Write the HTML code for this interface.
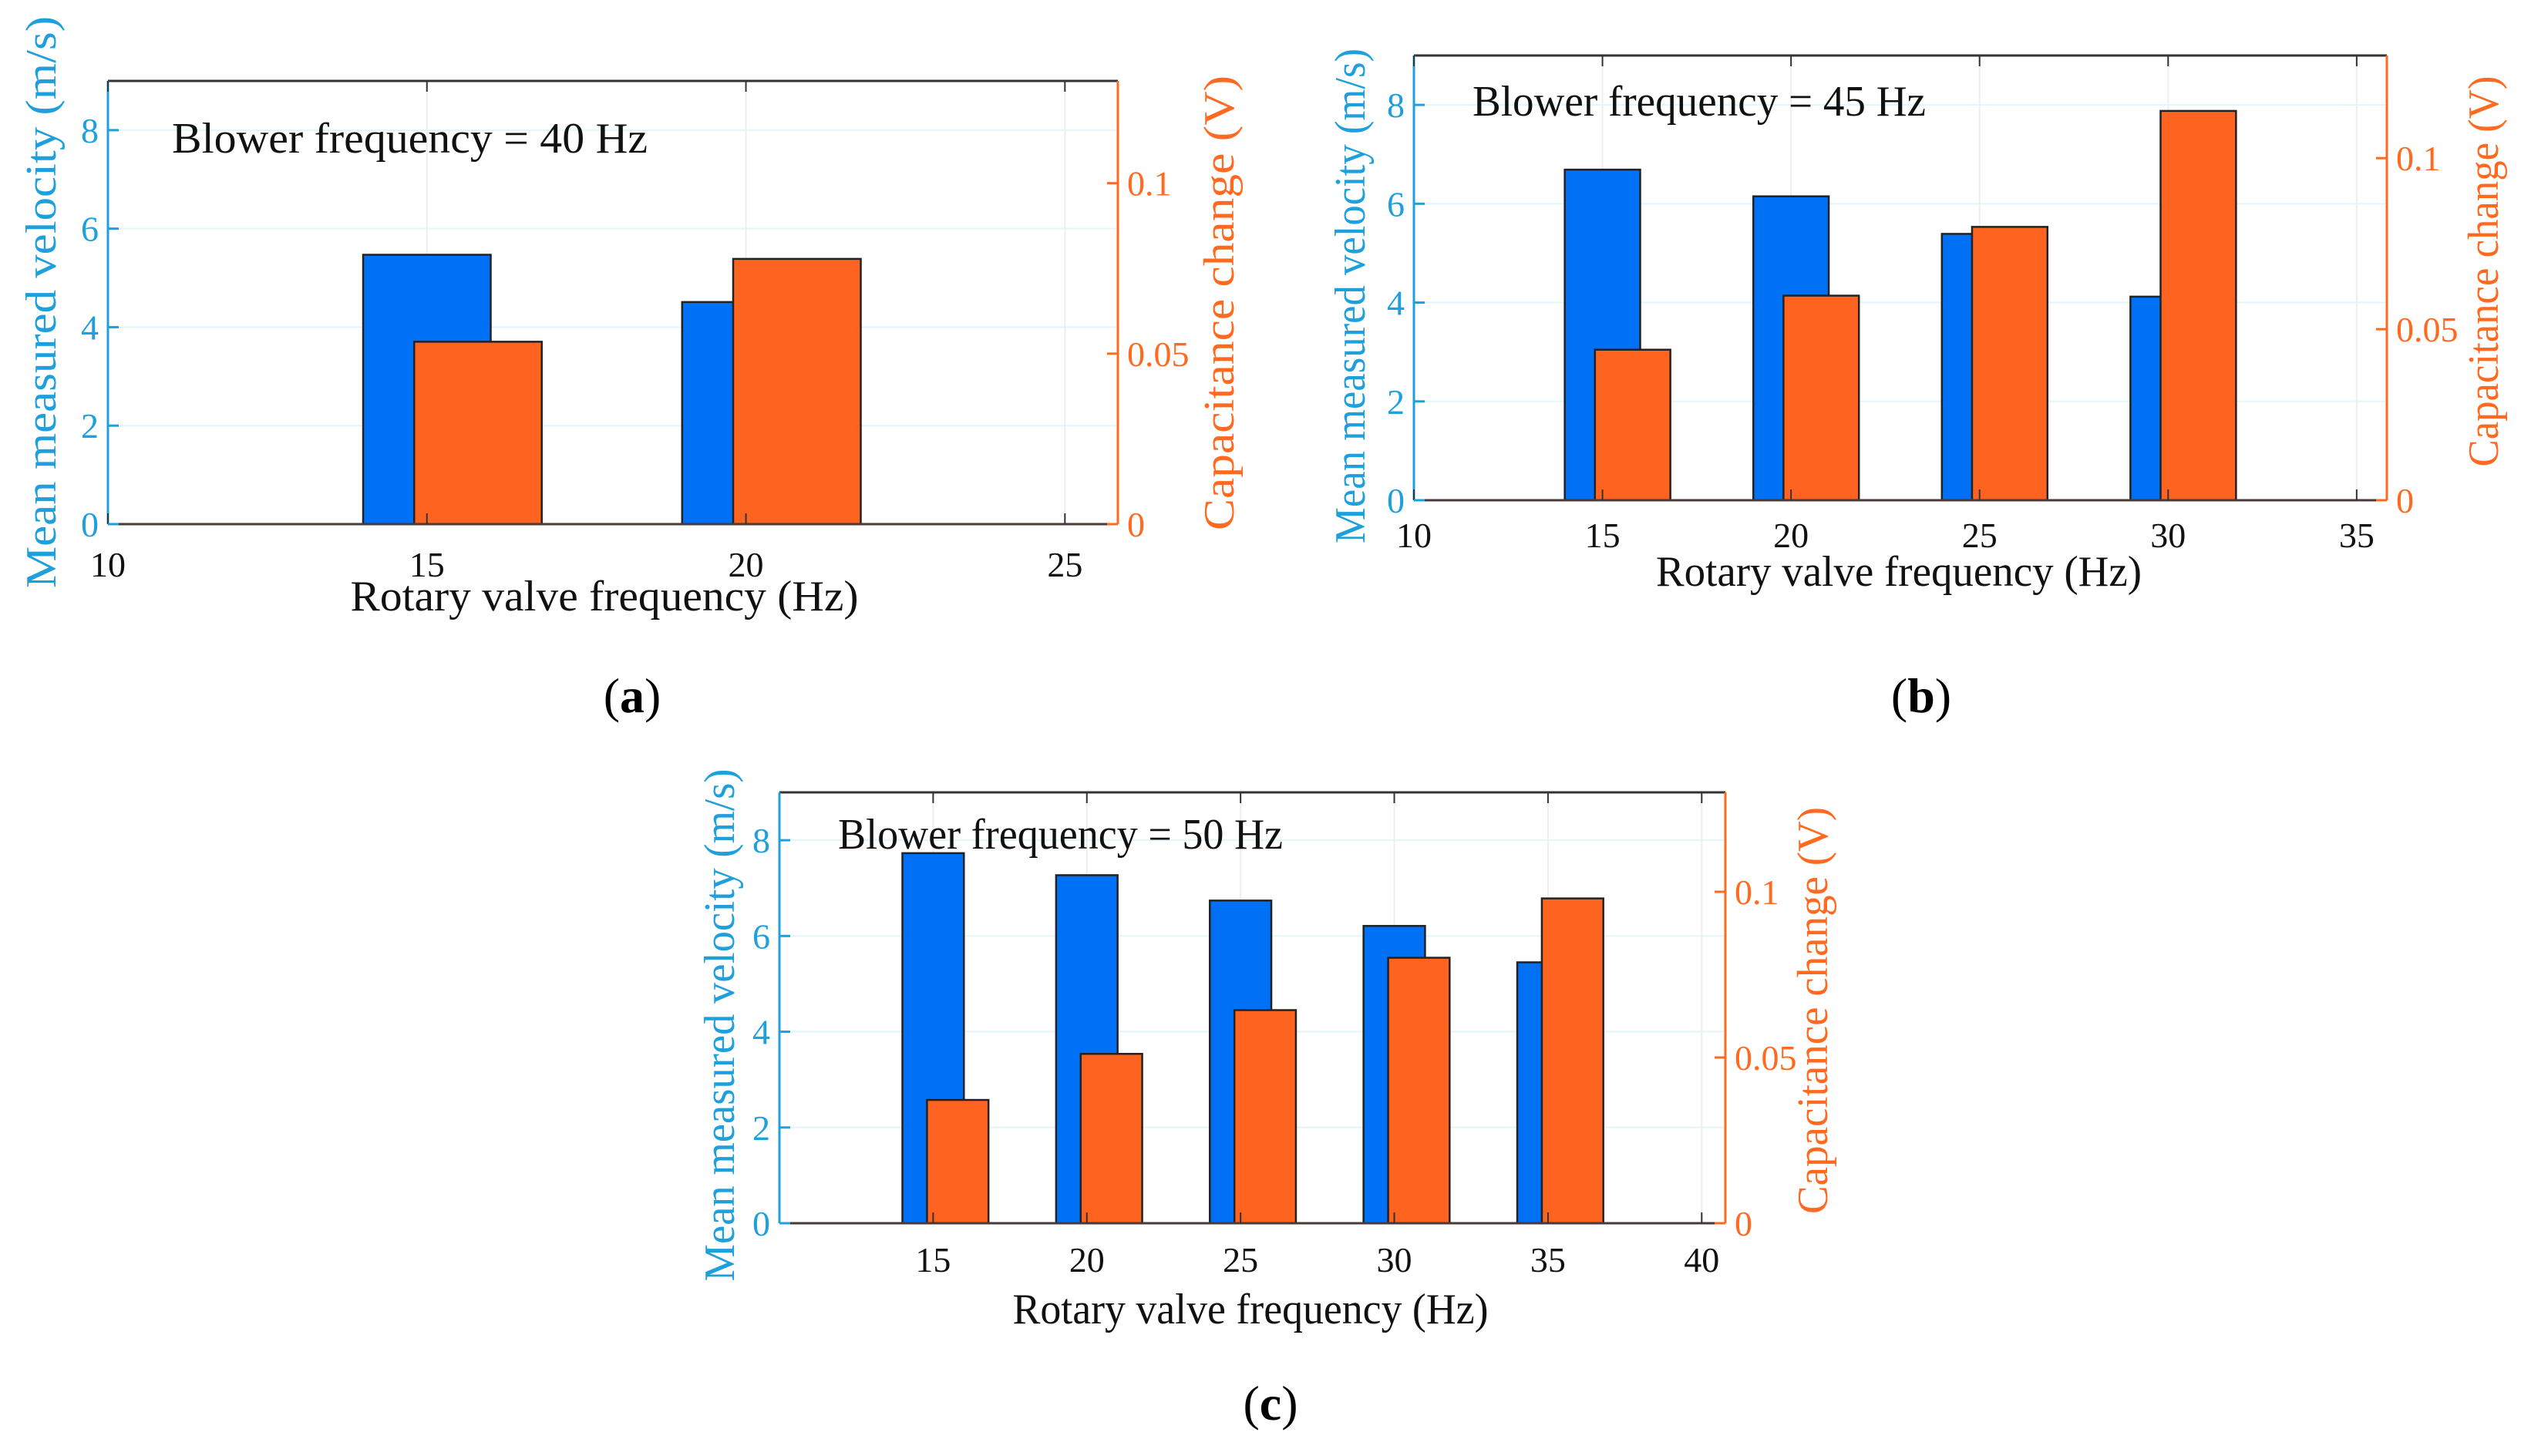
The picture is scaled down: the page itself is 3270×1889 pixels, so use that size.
<!DOCTYPE html>
<html><head><meta charset="utf-8"><style>
html,body{margin:0;padding:0;background:#fff;}
svg, svg text{font-family:"Liberation Serif","Times New Roman",serif;}
</style></head><body>
<svg id="fig" width="3270" height="1884" viewBox="0 0 3270 1884" xmlns="http://www.w3.org/2000/svg"></svg>
<script>
// Panel (a) data
const catsA = [15, 20];
const velA = [5.47, 4.51];
const capA = [0.0535, 0.0778];
const xTicksA = [10, 15, 20, 25];
// Panel (b) data
const catsB = [15, 20, 25, 30];
const velB = [6.69, 6.15, 5.39, 4.12];
const capB = [0.044, 0.0598, 0.0799, 0.1138];
const xTicksB = [10, 15, 20, 25, 30, 35];
// Panel (c) data
const catsC = [15, 20, 25, 30, 35];
const velC = [7.73, 7.27, 6.74, 6.21, 5.45];
const capC = [0.0372, 0.0511, 0.0643, 0.0801, 0.098];
const xTicksC = [15, 20, 25, 30, 35, 40];
const yTicksL = [0, 2, 4, 6, 8];
const yTicksR = [0, 0.05, 0.1];
const yTickLabelsR = ["0", "0.05", "0.1"];

const NS = "http://www.w3.org/2000/svg";
const svg = document.getElementById("fig");
const FONT = '"Liberation Serif", "Times New Roman", serif';
function mk(tag, attrs, parent, text) {
  const e = document.createElementNS(NS, tag);
  for (const k in attrs) e.setAttribute(k, attrs[k]);
  if (tag === "text") e.setAttribute("font-family", FONT);
  if (text !== undefined) e.textContent = text;
  (parent || svg).appendChild(e);
  return e;
}
const BLUE = "#0070f5", ORANGE = "#ff6320", LBLUE = "#1ea0dc", LOR = "#ff6a20";

function panel(p) {
  const g = mk("g", {});
  
  
  const xs = v => p.L + (v - p.xmin) / (p.xmax - p.xmin) * (p.R - p.L);
  const yl = v => p.B - v / 9 * (p.B - p.T);
  const yr = v => p.B - v / 0.13 * (p.B - p.T);
  yTicksL.forEach(t => { if (t > 0) mk("line", {x1: p.L, x2: p.R, y1: yl(t), y2: yl(t), stroke: "#e2f6fb", "stroke-width": 2}, g); });
  p.xt.forEach(t => { mk("line", {x1: xs(t), x2: xs(t), y1: p.T, y2: p.B, stroke: "#eeeeee", "stroke-width": 2}, g); });
  p.cats.forEach((c, i) => {
    const b = mk("rect", {x: xs(c - 1), y: yl(p.vel[i]), width: xs(c + 1) - xs(c - 1), height: p.B - yl(p.vel[i]), fill: BLUE, stroke: "#222", "stroke-width": 2.5}, g);
    
    
  });
  p.cats.forEach((c, i) => {
    const b = mk("rect", {x: xs(c - 0.2), y: yr(p.cap[i]), width: xs(c + 1.8) - xs(c - 0.2), height: p.B - yr(p.cap[i]), fill: ORANGE, stroke: "#222", "stroke-width": 2.5}, g);
    
    
  });
  mk("line", {x1: p.L, x2: p.R, y1: p.T, y2: p.T, stroke: "#333", "stroke-width": 3}, g);
  mk("line", {x1: p.L, x2: p.R, y1: p.B, y2: p.B, stroke: "#4a3a3a", "stroke-width": 3}, g);
  mk("line", {x1: p.L, x2: p.L, y1: p.T, y2: p.B, stroke: LBLUE, "stroke-width": 3}, g);
  mk("line", {x1: p.R, x2: p.R, y1: p.T, y2: p.B, stroke: LOR, "stroke-width": 3}, g);
  p.xt.forEach(t => {
    mk("line", {x1: xs(t), x2: xs(t), y1: p.B, y2: p.B - 14, stroke: "#333", "stroke-width": 2}, g);
    mk("line", {x1: xs(t), x2: xs(t), y1: p.T, y2: p.T + 14, stroke: "#333", "stroke-width": 2}, g);
    const tl = mk("text", {x: xs(t), y: p.xty, "font-size": 46, "text-anchor": "middle", fill: "#111"}, g, String(t));
    
    
  });
  yTicksL.forEach(t => {
    mk("line", {x1: p.L, x2: p.L + 14, y1: yl(t), y2: yl(t), stroke: LBLUE, "stroke-width": 3}, g);
    const tl = mk("text", {x: p.L - 12, y: yl(t) + 16, "font-size": 46, "text-anchor": "end", fill: LBLUE}, g, String(t));
    
    
  });
  yTicksR.forEach((t, i) => {
    mk("line", {x1: p.R, x2: p.R - 14, y1: yr(t), y2: yr(t), stroke: LOR, "stroke-width": 3}, g);
    const tl = mk("text", {x: p.R + 12, y: yr(t) + 16, "font-size": 46, fill: LOR}, g, yTickLabelsR[i]);
    
    
  });
  const yL = mk("text", {x: 0, y: 0, "font-size": 56, fill: LBLUE, "text-anchor": "middle", textLength: p.ylLen, lengthAdjust: "spacingAndGlyphs", transform: `translate(${p.ylX},${p.ylY}) rotate(-90)`}, g, "Mean measured velocity (m/s)");
  
  
  const yR = mk("text", {x: 0, y: 0, "font-size": 56, fill: LOR, "text-anchor": "middle", textLength: p.yrLen, lengthAdjust: "spacingAndGlyphs", transform: `translate(${p.yrX},${p.yrY}) rotate(-90)`}, g, "Capacitance change (V)");
  
  
  const xl = mk("text", {x: p.xlX, y: p.xlY, "font-size": 56, fill: "#111", "text-anchor": "middle", textLength: p.xlLen, lengthAdjust: "spacingAndGlyphs"}, g, "Rotary valve frequency (Hz)");
  
  
  const an = mk("text", {x: p.anX, y: p.anY, "font-size": 56, fill: "#111", textLength: p.anLen, lengthAdjust: "spacingAndGlyphs"}, g, p.ann);
  
  
  const cap = mk("text", {x: p.cX, y: p.cY, "font-size": 64, "text-anchor": "middle", fill: "#000"}, g, "");
  
  
  mk("tspan", {}, cap, "(");
  mk("tspan", {"font-weight": "bold"}, cap, p.letter);
  mk("tspan", {}, cap, ")");
}

panel({name: "panel-a", L: 140, R: 1450, T: 105, B: 680, xmin: 10, xmax: 25.83, cats: catsA, vel: velA, cap: capA, xt: xTicksA, xty: 748,
  ylX: 72, ylY: 392, ylLen: 742, yrX: 1600, yrY: 393, yrLen: 590, xlX: 784, xlY: 792, xlLen: 659,
  anX: 223, anY: 198, anLen: 617, ann: "Blower frequency = 40 Hz", cX: 820, cY: 924, letter: "a"});
panel({name: "panel-b", L: 1834, R: 3096, T: 72, B: 649, xmin: 10, xmax: 35.8, cats: catsB, vel: velB, cap: capB, xt: xTicksB, xty: 710,
  ylX: 1770, ylY: 384, ylLen: 642, yrX: 3240, yrY: 352, yrLen: 507, xlX: 2463, xlY: 760, xlLen: 630,
  anX: 1910, anY: 150, anLen: 588, ann: "Blower frequency = 45 Hz", cX: 2492, cY: 924, letter: "b"});
panel({name: "panel-c", L: 1011, R: 2238, T: 1028, B: 1587, xmin: 10, xmax: 40.77, cats: catsC, vel: velC, cap: capC, xt: xTicksC, xty: 1650,
  ylX: 952, ylY: 1330, ylLen: 665, yrX: 2370, yrY: 1311, yrLen: 528, xlX: 1622, xlY: 1717, xlLen: 617,
  anX: 1087, anY: 1101, anLen: 577, ann: "Blower frequency = 50 Hz", cX: 1648, cY: 1842, letter: "c"});
</script>
</body></html>
